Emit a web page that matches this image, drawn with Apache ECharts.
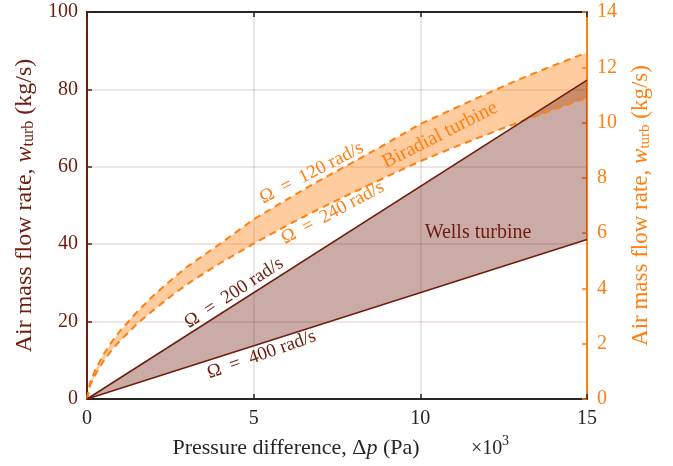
<!DOCTYPE html>
<html>
<head>
<meta charset="utf-8">
<script src="https://cdn.jsdelivr.net/npm/echarts@6/dist/echarts.min.js"></script>
<style>html,body{margin:0;padding:0;background:#fff}#c{width:673px;height:466px}</style>
</head>
<body>
<div id="c"></div>
<script>
// ---- data ----
const xTicks = [0, 5, 10, 15];
const leftTicks = [0, 20, 40, 60, 80, 100];
const rightTicks = [0, 2, 4, 6, 8, 10, 12, 14];

// Wells turbine (left axis, kg/s)
const wellsX = [0, 15];
const wells200 = [0, 82.4];
const wells400 = [0, 41.2];

// Biradial turbine (right axis, kg/s)
const biX = [0, 0.1, 0.25, 0.5, 0.75, 1, 1.5, 2, 2.5, 3, 4, 5, 6, 7, 8, 9, 10, 11, 12, 13, 14, 15];
const bi120 = [0, 0.62, 1.05, 1.62, 2.08, 2.47, 3.15, 3.75, 4.28, 4.78, 5.62, 6.5, 7.22, 7.92, 8.58, 9.25, 9.95, 10.5, 11.05, 11.58, 12.07, 12.53];
const bi240 = [0, 0.52, 0.88, 1.38, 1.78, 2.12, 2.72, 3.22, 3.7, 4.15, 4.92, 5.62, 6.28, 6.9, 7.48, 8.05, 8.6, 9.1, 9.57, 10.03, 10.47, 10.9];

// annotations: [text, x, yLeft, angleDeg, colorKey, fontSize]
const annotations = [
  ['Ω\u2002=\u2002120 rad/s', 6.74, 58.4, 27.4, 'o', 19],
  ['Ω\u2002=\u2002240 rad/s', 7.37, 48.1, 28.4, 'o', 19],
  ['Biradial turbine', 10.59, 68.2, 26.8, 'o', 20],
  ['Ω\u2002=\u2002200 rad/s', 4.41, 27.4, 33.3, 'r', 19],
  ['Ω\u2002=\u2002400 rad/s', 5.24, 11.4, 19.5, 'r', 19],
  ['Wells turbine', 11.73, 42.9, 0, 'r', 20]
];

const RED = '#6e1c0e';
const ORANGE = '#ff7f10';
const DARK = '#262626';
const FONT = 'Liberation Serif';

const pairs = (xs, ys) => xs.map((x, i) => [x, ys[i]]);

function band(xs, up, lo, color) {
  return function (params, api) {
    if (params.dataIndex !== 0) return null;
    const pts = [];
    for (let i = 0; i < xs.length; i++) pts.push(api.coord([xs[i], up[i]]));
    for (let i = xs.length - 1; i >= 0; i--) pts.push(api.coord([xs[i], lo[i]]));
    return {type: 'polygon', shape: {points: pts}, style: {fill: color}};
  };
}

const chart = echarts.init(document.getElementById('c'), null, {renderer: 'canvas'});
const option = {
  animation: false,
  backgroundColor: '#fff',
  grid: {left: 87, right: 86, top: 12, bottom: 67, containLabel: false},
  xAxis: [{
    type: 'value', min: 0, max: 15, interval: 5, position: 'bottom',
    axisLine: {show: true, onZero: false, lineStyle: {color: DARK, width: 2}},
    axisTick: {show: true, inside: true, length: 5, lineStyle: {color: DARK, width: 1.5}},
    axisLabel: {color: DARK, fontFamily: FONT, fontSize: 20, margin: 10},
    splitLine: {show: true, lineStyle: {color: 'rgba(0,0,0,0.13)', width: 1.5}},
    name: 'Pressure difference, Δ{i|p} (Pa)',
    nameLocation: 'middle', nameGap: 38,
    nameTextStyle: {color: DARK, fontFamily: FONT, fontSize: 22, padding: [0, 82, 0, 0],
      rich: {i: {fontFamily: FONT, fontStyle: 'italic', fontSize: 22, color: DARK}}}
  }, {
    type: 'value', min: 0, max: 15, interval: 5, position: 'top',
    axisLine: {show: true, onZero: false, lineStyle: {color: DARK, width: 2}},
    axisTick: {show: true, inside: true, length: 5, lineStyle: {color: DARK, width: 1.5}},
    axisLabel: {show: false}, splitLine: {show: false}
  }],
  yAxis: [{
    type: 'value', min: 0, max: 100, interval: 20, position: 'left',
    axisLine: {show: true, onZero: false, lineStyle: {color: RED, width: 2}},
    axisTick: {show: true, inside: true, length: 5, lineStyle: {color: RED, width: 1.5}},
    axisLabel: {color: RED, fontFamily: FONT, fontSize: 20, margin: 9},
    splitLine: {show: true, lineStyle: {color: 'rgba(110,28,14,0.15)', width: 1.5}},
    name: 'Air mass flow rate, {i|w}{s|turb} (kg/s)',
    nameLocation: 'middle', nameGap: 46, nameRotate: 90,
    nameTextStyle: {color: RED, fontFamily: FONT, fontSize: 24,
      rich: {i: {fontFamily: FONT, fontStyle: 'italic', fontSize: 24, color: RED},
             s: {fontFamily: FONT, fontSize: 16, color: RED, padding: [9, 0, 0, 0]}}}
  }, {
    type: 'value', min: 0, max: 14, interval: 2, position: 'right',
    axisLine: {show: true, onZero: false, lineStyle: {color: ORANGE, width: 2}},
    axisTick: {show: true, inside: true, length: 5, lineStyle: {color: ORANGE, width: 1.5}},
    axisLabel: {color: ORANGE, fontFamily: FONT, fontSize: 20, margin: 10},
    splitLine: {show: false},
    name: 'Air mass flow rate, {i|w}{s|turb} (kg/s)',
    nameLocation: 'middle', nameGap: 42, nameRotate: 90,
    nameTextStyle: {color: ORANGE, fontFamily: FONT, fontSize: 23,
      rich: {i: {fontFamily: FONT, fontStyle: 'italic', fontSize: 23, color: ORANGE},
             s: {fontFamily: FONT, fontSize: 15, color: ORANGE, padding: [9, 0, 0, 0]}}}
  }],
  series: [
    {name: 'biBand', type: 'custom', yAxisIndex: 1, z: 1,
     data: pairs(biX, bi120), renderItem: band(biX, bi120, bi240, 'rgba(255,127,16,0.4)')},
    {name: 'wellsBand', type: 'custom', yAxisIndex: 0, z: 1,
     data: pairs(wellsX, wells200), renderItem: band(wellsX, wells200, wells400, 'rgba(110,28,14,0.37)')},
    {name: 'bi240', type: 'line', yAxisIndex: 1, symbol: 'none', z: 3,
     data: pairs(biX, bi240), lineStyle: {color: ORANGE, width: 2, type: [7, 5]}},
    {name: 'bi120', type: 'line', yAxisIndex: 1, symbol: 'none', z: 3,
     data: pairs(biX, bi120), lineStyle: {color: ORANGE, width: 2, type: [7, 5]}},
    {name: 'wells400', type: 'line', yAxisIndex: 0, symbol: 'none', z: 4,
     data: pairs(wellsX, wells400), lineStyle: {color: RED, width: 1.5}},
    {name: 'wells200', type: 'line', yAxisIndex: 0, symbol: 'none', z: 4,
     data: pairs(wellsX, wells200), lineStyle: {color: RED, width: 1.5}}
  ]
};
chart.setOption(option);

const graphics = annotations.map(([t, x, y, ang, c, fs]) => {
  const p = chart.convertToPixel({xAxisIndex: 0, yAxisIndex: 0}, [x, y]);
  return {type: 'text', x: p[0], y: p[1], rotation: ang * Math.PI / 180, z: 10,
    style: {text: t, fill: c === 'o' ? ORANGE : RED, font: fs + 'px "' + FONT + '"', align: 'center', verticalAlign: 'middle'}};
});
graphics.push({type: 'text', left: 471, top: 439, z: 10,
  style: {text: '×10', fill: DARK, font: '20px "' + FONT + '"'}});
graphics.push({type: 'text', left: 502, top: 434, z: 10,
  style: {text: '3', fill: DARK, font: '14px "' + FONT + '"'}});
chart.setOption({graphic: graphics});
</script>
</body>
</html>
